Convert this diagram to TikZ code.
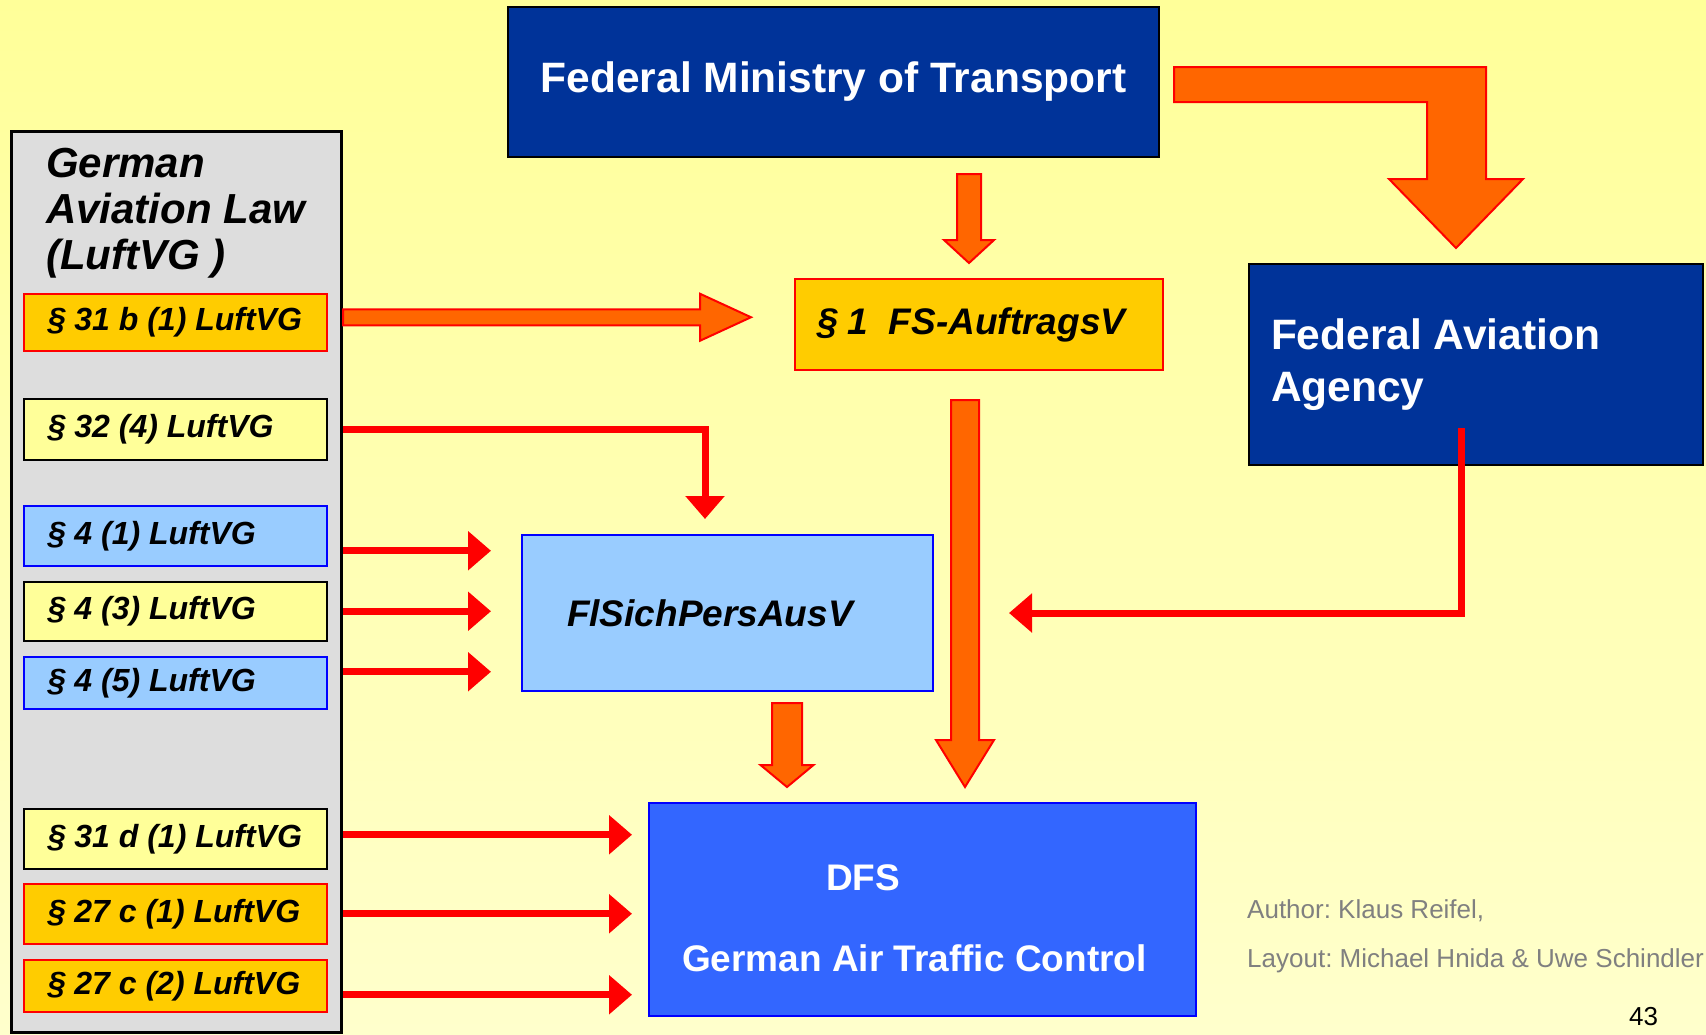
\documentclass[tikz,border=0pt]{standalone}
\usepackage{fontspec}
\setmainfont{Liberation Sans}
\usepackage{xcolor}
\definecolor{bgtop}{HTML}{FFFF99}
\definecolor{bgbot}{HTML}{FFFFCC}
\definecolor{panelgray}{HTML}{DDDDDD}
\definecolor{gold}{HTML}{FFCC00}
\definecolor{paleyellow}{HTML}{FFFF99}
\definecolor{skyblue}{HTML}{99CCFF}
\definecolor{navy}{HTML}{003399}
\definecolor{dfsblue}{HTML}{3366FF}
\definecolor{fatorange}{HTML}{FF6600}
\definecolor{authorgray}{HTML}{808080}
\usetikzlibrary{positioning,arrows.meta,calc}

% fat orange arrow pointing down: start, tip, shaft half width, head half width, head length
\newcommand{\downblock}[5]{%
  \filldraw[blockarrow] ($(#1)+(-#3,0)$) -- ($(#2)+(-#3,-#5)$) -- ($(#2)+(-#4,-#5)$) -- (#2)
    -- ($(#2)+(#4,-#5)$) -- ($(#2)+(#3,-#5)$) -- ($(#1)+(#3,0)$) -- cycle;}

\begin{document}
\begin{tikzpicture}[x=1pt,y=-1pt,
  lawbox/.style={anchor=north west,line width=1.5pt,inner ysep=0pt,inner xsep=24pt,
    text width=255pt,align=flush left,font=\fontsize{32}{37}\selectfont\bfseries\itshape},
  orangelaw/.style={lawbox,fill=gold,draw=red},
  yellowlaw/.style={lawbox,fill=paleyellow,draw=black},
  bluelaw/.style={lawbox,fill=skyblue,draw=blue},
  authority/.style={fill=navy,draw=black,line width=2pt,text=white,
    font=\fontsize{42.5}{52}\selectfont\bfseries},
  blockarrow/.style={fill=fatorange,draw=red,line width=2pt},
  redarrow/.style={draw=red,line width=7pt,-{Triangle[length=23pt,width=38pt]}}
]
\useasboundingbox (0,0) rectangle (1706,1034);
\shade[top color=bgtop,bottom color=bgbot] (0,0) rectangle (1706,1034);

% law panel on the left
\node[draw=black,line width=3pt,fill=panelgray,minimum width=330pt,minimum height=901.5pt,
  inner sep=0pt,anchor=north west] (law) at (10,129.5) {};
\node[anchor=base west,inner sep=0pt,align=flush left,
  font=\fontsize{42}{46}\selectfont\bfseries\itshape] (lawtitle) at (46,269) {German\\Aviation Law\\(LuftVG )};
\node[orangelaw,minimum height=57pt] (p31b) at (23,293) {§ 31 b (1) LuftVG};
\node[yellowlaw,minimum height=61pt] (p32) at (23,398) {§ 32 (4) LuftVG};
\node[bluelaw,minimum height=60pt] (p41) at (23,505) {§ 4 (1) LuftVG};
\node[yellowlaw,minimum height=59pt] (p43) at (23,581) {§ 4 (3) LuftVG};
\node[bluelaw,minimum height=52pt] (p45) at (23,656) {§ 4 (5) LuftVG};
\node[yellowlaw,minimum height=60pt] (p31d) at (23,808) {§ 31 d (1) LuftVG};
\node[orangelaw,minimum height=60pt] (p27c1) at (23,883) {§ 27 c (1) LuftVG};
\node[orangelaw,minimum height=52pt] (p27c2) at (23,959) {§ 27 c (2) LuftVG};

% authorities and ordinances
\node[authority,minimum width=651pt,minimum height=150pt,anchor=north west] (fmt) at (507,6) {Federal Ministry of Transport};
\node[fill=gold,draw=red,line width=2pt,anchor=north west,minimum height=91pt,text width=324pt,inner xsep=22pt,
  align=flush left,font=\fontsize{37}{42}\selectfont\bfseries\itshape] (auftrag) at (794,278) {§ 1\ \ FS-AuftragsV};
\node[authority,anchor=north west,minimum height=201pt,text width=410pt,inner xsep=22pt,align=flush left] (faa) at (1248,263) {Federal Aviation\\Agency};
\node[fill=skyblue,draw=blue,line width=2pt,anchor=north west,minimum height=156pt,text width=321pt,inner xsep=45pt,
  align=flush left,font=\fontsize{37}{44}\selectfont\bfseries\itshape] (flsich) at (521,534) {FlSichPersAusV};
\node[fill=dfsblue,draw=blue,line width=2pt,anchor=north west,minimum height=213pt,text width=481pt,inner xsep=33pt,
  align=flush left,text=white,font=\fontsize{37}{44}\selectfont\bfseries] (dfs) at (648,802)
  {\rule{0pt}{43pt}\hspace*{144pt}DFS\\[37pt]German Air Traffic Control};

\node[anchor=base west,inner sep=0pt,align=flush left,text=authorgray,font=\fontsize{26}{31}\selectfont] (credits) at (1247,967)
  {Author:\ Klaus Reifel,\\[18pt]Layout:\ Michael Hnida \& Uwe Schindler};
\node[anchor=base west,inner sep=0pt,font=\fontsize{26}{31}\selectfont] (pageno) at (1629,1025) {43};

% fat orange arrows
\coordinate (h1) at ($(law.east |- p31b.east)+(0,-5)$);
\coordinate (h2) at ($(h1 -| auftrag.west)+(-43,0)$);
\filldraw[blockarrow] ($(h1)+(0,-8)$) -- ($(h2)+(-51,-8)$) -- ($(h2)+(-51,-23.5)$) -- (h2)
  -- ($(h2)+(-51,23.5)$) -- ($(h2)+(-51,8)$) -- ($(h1)+(0,8)$) -- cycle;

\coordinate (m1) at ($(fmt.south)+(135.5,16)$);
\coordinate (m2) at ($(m1 |- auftrag.north)+(0,-15)$);
\downblock{m1}{m2}{12}{25}{23}

\coordinate (a1) at ($(auftrag.south)+(-14,29)$);
\coordinate (a2) at ($(a1 |- dfs.north)+(0,-15)$);
\downblock{a1}{a2}{14}{29}{47}

\coordinate (f1) at ($(flsich.south)+(59.5,11)$);
\coordinate (f2) at ($(f1 |- dfs.north)+(0,-15)$);
\downblock{f1}{f2}{15}{26.5}{22}

\coordinate (bstart) at ($(fmt.east)+(14,-15)$);
\coordinate (btip) at ($(faa.north)+(-20,-15)$);
\filldraw[blockarrow] (bstart) -- ($(bstart -| btip)+(30,0)$) -- ($(btip)+(30,-69)$) -- ($(btip)+(67,-69)$)
  -- (btip) -- ($(btip)+(-67,-69)$) -- ($(btip)+(-29,-69)$) -- ($(bstart -| btip)+(-29,35)$)
  -- ($(bstart)+(0,35)$) -- cycle;

% thin red arrows
\draw[redarrow,shorten >=15pt] (law.east |- p32.east) -| ([xshift=-22.5pt]flsich.north);
\draw[redarrow,shorten >=30pt] ($(law.east |- p41.east)+(0,15)$) -- ($(flsich.west |- p41.east)+(0,15)$);
\draw[redarrow,shorten >=30pt] (law.east |- p43.east) -- (flsich.west |- p43.east);
\draw[redarrow,shorten >=30pt] ($(law.east |- p45.east)+(0,-11)$) -- ($(flsich.west |- p45.east)+(0,-11)$);
\draw[redarrow,shorten >=16pt] ($(law.east |- p31d.east)+(0,-4)$) -- ($(dfs.west |- p31d.east)+(0,-4)$);
\draw[redarrow,shorten >=16pt] (law.east |- p27c1.east) -- (dfs.west |- p27c1.east);
\draw[redarrow,shorten >=16pt] ($(law.east |- p27c2.east)+(0,9)$) -- ($(dfs.west |- p27c2.east)+(0,9)$);
\draw[redarrow,shorten >=75pt] ($(faa.south)+(-15,-38)$) |- (flsich.east);

\end{tikzpicture}
\end{document}
